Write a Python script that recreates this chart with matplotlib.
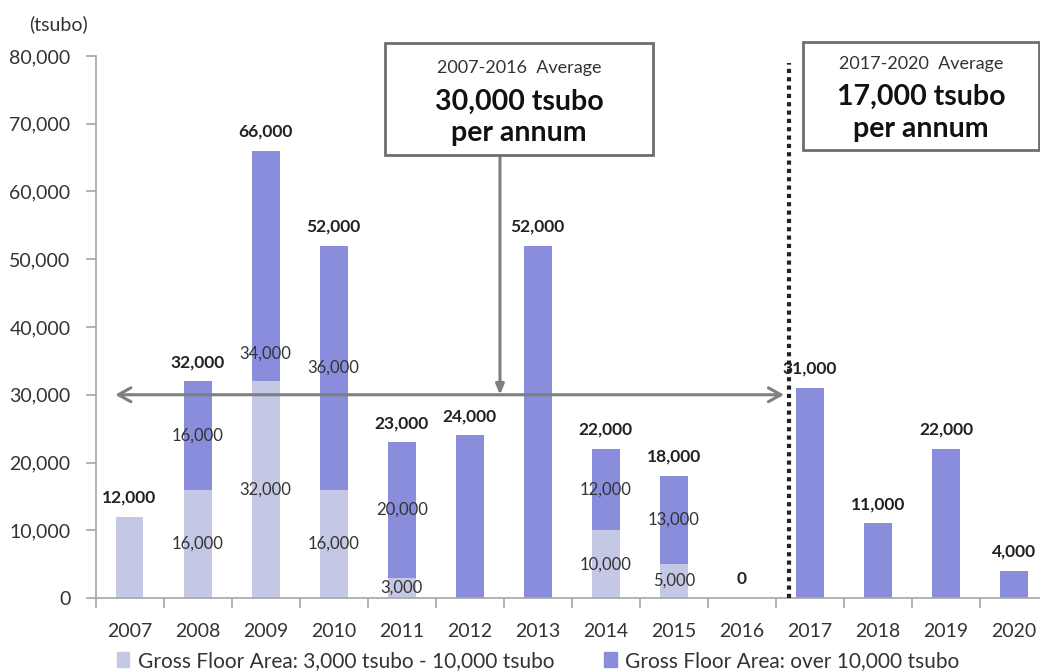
import matplotlib
matplotlib.use("Agg")
import matplotlib.pyplot as plt
from matplotlib.patches import Rectangle, Patch
import numpy as np

plt.rcParams["font.family"] = ["Lato", "DejaVu Sans"]

# data (tsubo)
years = ["2007", "2008", "2009", "2010", "2011", "2012", "2013",
         "2014", "2015", "2016", "2017", "2018", "2019", "2020"]
small_bldg = [12000, 16000, 32000, 16000, 3000, 0, 0, 10000, 5000, 0, 0, 0, 0, 0]
large_bldg = [0, 16000, 34000, 36000, 20000, 24000, 52000, 12000, 13000, 0, 31000, 11000, 22000, 4000]
avg_2007_2016 = 30000
legend_labels = ["Gross Floor Area: 3,000 tsubo - 10,000 tsubo",
                 "Gross Floor Area: over 10,000 tsubo"]

LIGHT = "#c5c8e4"
DARK = "#8a8cdc"
GRAY = "#7f7f7f"
TXT = "#333333"

W, H = 1040, 672
fig = plt.figure(figsize=(W / 100, H / 100), dpi=100)
ax = fig.add_axes([95.5 / W, (H - 598) / H, (1048 - 95.5) / W, (598 - 56) / H])

x = np.arange(len(years))
small = np.array(small_bldg)
large = np.array(large_bldg)
total = small + large

bw = 0.41
ax.bar(x, small, bw, color=LIGHT, zorder=2)
ax.bar(x, large, bw, bottom=small, color=DARK, zorder=2)

# segment labels (only for stacked years)
for i in range(len(years)):
    if small[i] > 0 and large[i] > 0:
        ax.text(x[i], small[i] / 2, f"{small[i]:,}", ha="center", va="center",
                fontsize=12, color=TXT, zorder=4)
        ymid = small[i] + large[i] / 2
        if years[i] == "2009":
            ymid = small[i] + large[i] * 0.12
        ax.text(x[i], ymid, f"{large[i]:,}", ha="center", va="center",
                fontsize=12, color=TXT, zorder=4)

# totals
for i in range(len(years)):
    ax.annotate(f"{total[i]:,}", (x[i], total[i]), xytext=(0, 8),
                textcoords="offset points", ha="center", va="bottom",
                fontsize=12.5, fontweight="bold", color="#222222")

ax.set_xlim(-0.5, len(years) - 0.5)
ax.set_ylim(0, 80000)
ax.set_yticks(np.arange(0, 80001, 10000))
ax.set_yticklabels([f"{v:,}" for v in range(0, 80001, 10000)])
ax.set_xticks(x)
ax.set_xticklabels(years)
ax.set_xticks(np.arange(-0.5, len(years)), minor=True)
ax.tick_params(axis="x", which="major", length=0, pad=18, labelsize=14, labelcolor=TXT)
ax.tick_params(axis="x", which="minor", length=7, width=1.2, color="#a6a6a6")
ax.tick_params(axis="y", length=7, width=1.2, color="#a6a6a6", pad=11,
               labelsize=14, labelcolor=TXT)
for s in ["top", "right"]:
    ax.spines[s].set_visible(False)
for s in ["left", "bottom"]:
    ax.spines[s].set_color("#a6a6a6")
    ax.spines[s].set_linewidth(1.2)

# average arrows
ax.annotate("", xy=(-0.21, avg_2007_2016), xytext=(9.62, avg_2007_2016),
            arrowprops=dict(arrowstyle="<->,head_length=0.9,head_width=0.5",
                            color=GRAY, lw=2.2, shrinkA=0, shrinkB=0), zorder=5)
ax.annotate("", xy=(5.445, avg_2007_2016), xytext=(5.445, 65400),
            arrowprops=dict(arrowstyle="-|>,head_length=0.6,head_width=0.25",
                            color=GRAY, lw=2.2, shrinkA=0, shrinkB=0),
            annotation_clip=False, zorder=5)

# period divider
ax.plot([9.69, 9.69], [0, 79000], color="#222222", lw=3,
        linestyle=(0, (1, 1)), zorder=3)

# average boxes
def avg_box(x0, y0, x1, y1, head, big1, ys):
    fig.patches.append(Rectangle((x0 / W, 1 - y1 / H), (x1 - x0) / W, (y1 - y0) / H,
                                 transform=fig.transFigure, facecolor="white",
                                 edgecolor="#6e6e6e", lw=2, zorder=6))
    cx = (x0 + x1) / 2 / W
    fig.text(cx, 1 - ys[0] / H, head, ha="center", va="center", fontsize=13,
             color=TXT, zorder=7)
    fig.text(cx, 1 - ys[1] / H, big1, ha="center", va="center", fontsize=20.5,
             fontweight="bold", color="#111111", zorder=7)
    fig.text(cx, 1 - ys[2] / H, "per annum", ha="center", va="center", fontsize=20.5,
             fontweight="bold", color="#111111", zorder=7)

avg_box(385, 43, 653, 155, "2007-2016  Average", "30,000 tsubo", (68, 102, 133))
avg_box(803, 42, 1039, 150, "2017-2020  Average", "17,000 tsubo", (64, 97, 129))

fig.text(59 / W, 1 - 24 / H, "(tsubo)", ha="center", va="center", fontsize=14, color=TXT)

handles = [Patch(color=LIGHT), Patch(color=DARK)]
fig.legend(handles, legend_labels, loc="center left", bbox_to_anchor=(98 / W, 1 - 661 / H),
           ncol=2, frameon=False, fontsize=15, handlelength=0.6, handleheight=0.7,
           handletextpad=0.4, columnspacing=2.4, labelcolor=TXT)

fig.savefig("out.png", dpi=100)
